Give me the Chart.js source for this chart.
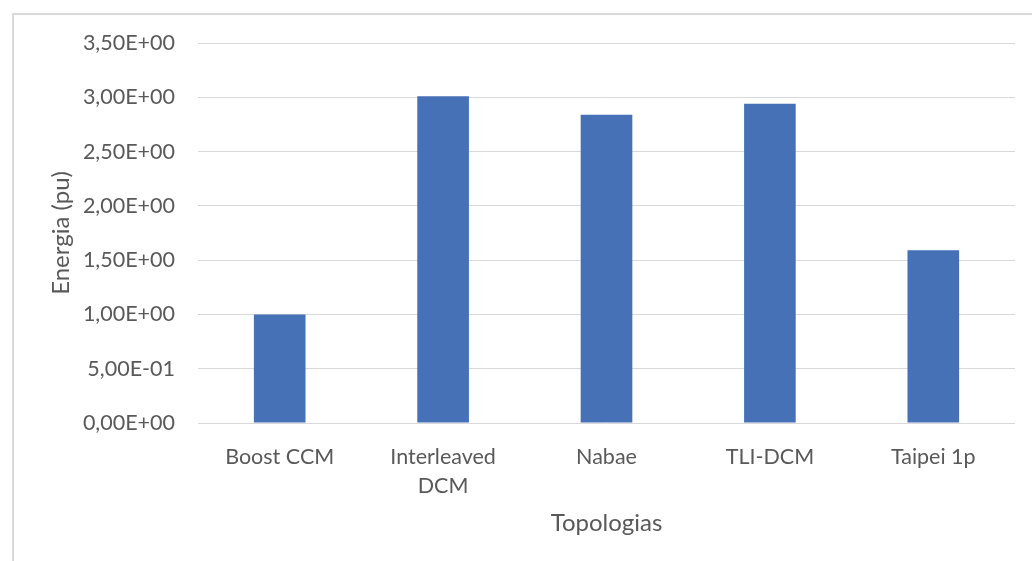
<!DOCTYPE html>
<html>
<head>
<meta charset="utf-8">
<script src="https://cdn.jsdelivr.net/npm/chart.js@4/dist/chart.umd.min.js"></script>
<style>
  html, body { margin: 0; padding: 0; background: #ffffff; }
  #wrap { position: relative; width: 1032px; height: 561px; overflow: hidden; }
  #frame { position: absolute; left: 12px; top: 13px; width: 1100px; height: 600px;
           border-left: 2px solid #d9d9d9; border-top: 2px solid #d9d9d9; box-sizing: border-box; }
  #c { position: absolute; left: 0; top: 0; }
</style>
</head>
<body>
<div id="wrap">
  <div id="frame"></div>
  <canvas id="c" width="1032" height="561"></canvas>
</div>
<script>
// Energy per converter topology (per unit)
const topologies = ['Boost CCM', ['Interleaved', 'DCM'], 'Nabae', 'TLI-DCM', 'Taipei 1p'];
const energia = [1.00, 3.01, 2.84, 2.94, 1.59];
const yTickLabels = ['0,00E+00', '5,00E-01', '1,00E+00', '1,50E+00', '2,00E+00', '2,50E+00', '3,00E+00', '3,50E+00'];

const textColor = '#595959';
const gridColor = '#d9d9d9';
const fontFamily = 'Lato, "Open Sans", sans-serif';

new Chart(document.getElementById('c'), {
  type: 'bar',
  data: {
    labels: topologies,
    datasets: [{
      label: 'Energia (pu)',
      data: energia,
      backgroundColor: '#4671b6',
      borderWidth: 0,
      categoryPercentage: 1.0,
      barPercentage: 0.316
    }]
  },
  options: {
    responsive: false,
    animation: false,
    devicePixelRatio: 1,
    layout: { padding: { left: 0, top: 43, right: 17, bottom: 0 } },
    plugins: {
      legend: { display: false },
      tooltip: { enabled: false },
      title: { display: false }
    },
    scales: {
      x: {
        grid: { display: false },
        border: { display: false },
        ticks: {
          color: textColor,
          font: { family: fontFamily, size: 21.5, lineHeight: 1.32 },
          padding: 12,
          maxRotation: 0,
          autoSkip: false
        },
        title: {
          display: true,
          text: 'Topologias',
          color: textColor,
          font: { family: fontFamily, size: 24 },
          padding: { top: 0, bottom: 23 }
        },
        afterFit(scale) { scale.height = 138; }
      },
      y: {
        min: 0,
        max: 3.5,
        grid: { color: gridColor, lineWidth: 1, drawTicks: false },
        border: { display: false },
        ticks: {
          stepSize: 0.5,
          color: textColor,
          font: { family: fontFamily, size: 21.5 },
          padding: 23,
          callback: (value, index) => yTickLabels[index]
        },
        title: {
          display: true,
          text: 'Energia (pu)',
          color: textColor,
          font: { family: fontFamily, size: 24 },
          padding: { top: 47, bottom: 0 }
        },
        afterFit(scale) { scale.width = 198; }
      }
    }
  }
});
</script>
</body>
</html>
